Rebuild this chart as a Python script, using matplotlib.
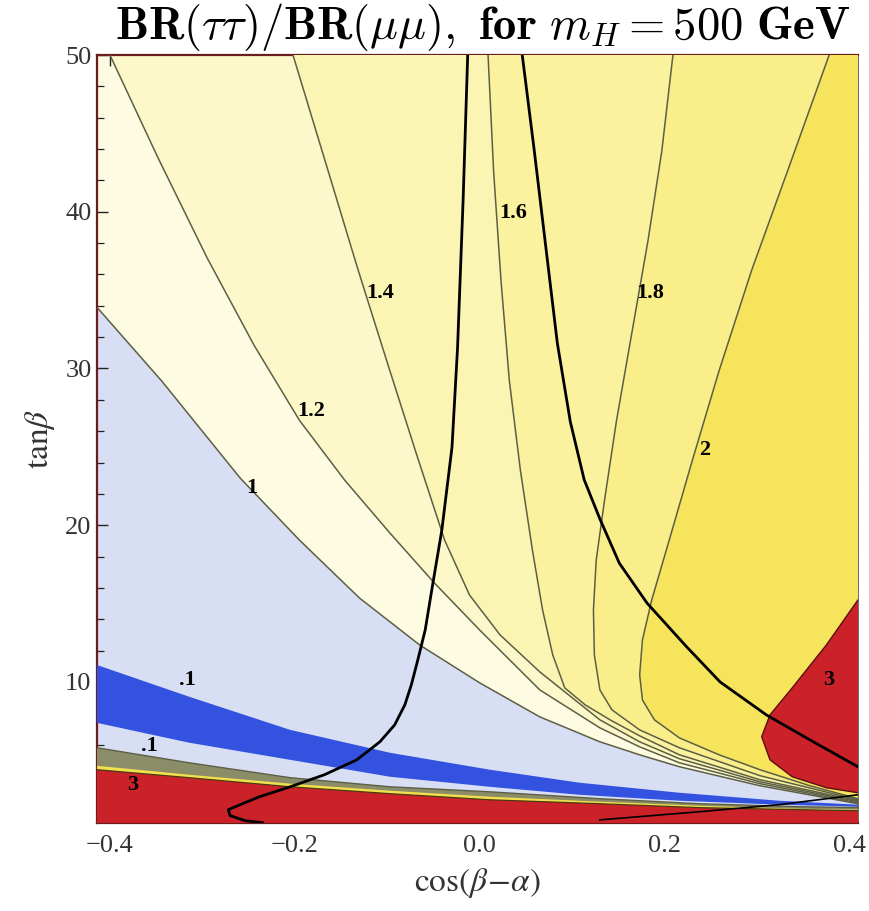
import matplotlib
matplotlib.use('Agg')
import matplotlib.pyplot as plt
import numpy as np

# contour lines: cos(beta-alpha) and tan(beta)
c10_x = [-0.414, -0.344, -0.259, -0.195, -0.13, -0.065, 0.0, 0.065, 0.13, 0.173, 0.216, 0.303, 0.409]
c10_t = [33.9, 29.2, 23.0, 19.05, 15.35, 12.36, 9.94, 7.77, 6.18, 5.35, 4.59, 3.38, 2.23]

c12_x = [-0.4, -0.348, -0.295, -0.244, -0.195, -0.146, -0.097, -0.049, 0.0, 0.065, 0.13, 0.173, 0.216, 0.303, 0.409]
c12_t = [50.0, 43.44, 37.07, 31.47, 26.69, 22.87, 19.49, 16.31, 13.31, 9.49, 7.07, 5.86, 4.84, 3.51, 2.29]

c14_x = [-0.202, -0.164, -0.132, -0.099, -0.068, -0.038, -0.011, 0.022, 0.065, 0.13, 0.173, 0.216, 0.303, 0.409]
c14_t = [50.0, 42.61, 36.37, 30.19, 24.46, 19.05, 15.54, 13.0, 10.64, 7.58, 6.18, 5.1, 3.63, 2.36]

c16_x = [0.009, 0.015, 0.023, 0.032, 0.044, 0.057, 0.068, 0.079, 0.092, 0.114, 0.141, 0.173, 0.216, 0.303, 0.409]
c16_t = [50.0, 42.61, 35.61, 29.24, 23.5, 18.41, 14.59, 11.72, 9.62, 8.54, 7.58, 6.56, 5.35, 3.76, 2.42]

c18_x = [0.209, 0.197, 0.182, 0.165, 0.148, 0.135, 0.126, 0.123, 0.124, 0.13, 0.143, 0.173, 0.216, 0.303, 0.409]
c18_t = [50.0, 43.89, 38.15, 32.42, 26.69, 21.59, 17.77, 14.59, 11.72, 9.49, 8.22, 6.94, 5.8, 4.02, 2.48]

c20_x = [0.378, 0.335, 0.294, 0.259, 0.23, 0.205, 0.186, 0.176, 0.173, 0.176, 0.189, 0.216, 0.259, 0.303, 0.357, 0.409]
c20_t = [50.0, 42.93, 36.24, 29.87, 24.14, 19.05, 15.22, 12.68, 10.45, 8.85, 7.58, 6.43, 5.35, 4.4, 3.38, 2.55]

# value 3 island on the right
c30_x = [0.409, 0.375, 0.338, 0.314, 0.305, 0.314, 0.338, 0.375, 0.409]
c30_t = [15.22, 12.36, 9.62, 7.9, 6.5, 5.03, 3.95, 3.25, 2.93]

# the .1 band (blue) and the steep strip near the bottom
x_low = [-0.414, -0.314, -0.205, -0.097, 0.011, 0.108, 0.216, 0.324, 0.409]
c01_up_t = [11.08, 9.05, 6.94, 5.48, 4.4, 3.57, 2.93, 2.42, 2.17]
c01_lo_t = [7.39, 6.12, 5.03, 3.95, 3.31, 2.8, 2.42, 2.17, 2.04]

x_strip = [-0.414, -0.314, -0.205, -0.097, 0.011, 0.13, 0.238, 0.346, 0.409]
c1_low_t = [5.8, 4.84, 3.89, 3.31, 2.99, 2.55, 2.23, 2.04, 1.98]
c2_low_t = [4.65, 4.08, 3.51, 3.06, 2.68, 2.36, 2.1, 1.91, 1.85]
c3_low_t = [4.4, 3.89, 3.31, 2.87, 2.48, 2.23, 1.98, 1.85, 1.78]

# black constraint curves
curveA_x = [-0.235, -0.254, -0.27, -0.272, -0.259, -0.238, -0.205, -0.168, -0.133, -0.108,
            -0.092, -0.081, -0.074, -0.067, -0.059, -0.051, -0.041, -0.03, -0.024, -0.018, -0.013]
curveA_t = [1.02, 1.15, 1.47, 1.85, 2.17, 2.68, 3.31, 4.08, 5.03, 6.18,
            7.26, 8.54, 9.81, 11.4, 13.31, 16.18, 19.68, 24.97, 31.3, 40.7, 50.0]
curveB_x = [0.046, 0.059, 0.072, 0.084, 0.098, 0.113, 0.13, 0.151, 0.181, 0.224, 0.26,
            0.31, 0.357, 0.409]
curveB_t = [50.0, 43.9, 37.5, 31.6, 26.6, 22.9, 20.4, 17.58, 15.03, 12.23, 10.0,
            7.9, 6.31, 4.59]
curveC_x = [0.13, 0.238, 0.324, 0.409]
curveC_t = [1.2, 1.72, 2.17, 2.8]

# contour labels (text, x, y)
labels = [('1', -0.246, 22.4), ('1.2', -0.182, 27.3), ('1.4', -0.108, 34.8),
          ('1.6', 0.036, 39.9), ('1.8', 0.184, 34.8), ('2', 0.243, 24.8),
          ('3', 0.378, 10.1), ('3', -0.375, 3.4), ('.1', -0.316, 10.1), ('.1', -0.357, 5.9)]

XL, XR, YB, YT = -0.414, 0.409, 1.0, 50.0

col_low = '#d8dff5'
band_cols = ['#fdfbe2', '#fcf8ca', '#fbf5b3', '#faf29e', '#f9ee89', '#f5e45c']
col_red = '#cb2229'
col_blue = '#3352e0'
line_col = '#5d5f45'

fig = plt.figure(figsize=(8.7, 9.11), dpi=100)
ax = fig.add_axes([0.1115, 0.0966, 0.8745, 0.843])
ax.set_xlim(XL, XR)
ax.set_ylim(YB, YT)
ax.set_facecolor(col_low)

pad = 0.05
upper = [(c10_x, c10_t), (c12_x, c12_t), (c14_x, c14_t),
         (c16_x, c16_t), (c18_x, c18_t), (c20_x, c20_t)]
for i, (cx, ct) in enumerate(upper):
    px = list(cx) + [XR + pad, XR + pad, cx[0]]
    py = list(ct) + [ct[-1], YT + 5, YT + 5]
    if cx[0] <= XL:
        px = [XL - pad] + px
        py = [ct[0]] + py
        px[-1] = XL - pad
    ax.fill(px, py, color=band_cols[i], lw=0, zorder=1 + i)
    ax.plot(cx, ct, color=line_col, lw=1.1, zorder=10)

# red island
ax.fill(c30_x + [XR + pad, XR + pad], c30_t + [c30_t[-1], c30_t[0]],
        color=col_red, lw=0, zorder=8)
ax.plot(c30_x, c30_t, color='#5a1010', lw=1.0, zorder=10)

# blue band
ax.fill(x_low + x_low[::-1], c01_up_t + c01_lo_t[::-1], color=col_blue, lw=0, zorder=8)

# bottom strip: steep contours, yellow line, red region
ax.fill(x_strip + [XR + pad, XL - pad], c1_low_t + [0, 0], color='#8b8c68', lw=0, zorder=8)
ax.fill(x_strip + [XR + pad, XL - pad], c2_low_t + [0, 0], color='#f1e04e', lw=0, zorder=8)
ax.fill(x_strip + [XR + pad, XL - pad], c3_low_t + [0, 0], color=col_red, lw=0, zorder=8)
ax.plot(x_strip, c1_low_t, color=line_col, lw=1.0, zorder=10)
ax.plot(x_strip, c3_low_t, color='#4a3a10', lw=0.9, zorder=10)

# black curves
ax.plot(curveA_x, curveA_t, color='black', lw=2.0, zorder=12)
ax.plot(curveB_x, curveB_t, color='black', lw=2.0, zorder=12)
ax.plot(curveC_x, curveC_t, color='black', lw=1.2, zorder=12)

for txt, lx, ly in labels:
    ax.text(lx, ly, txt, fontsize=16, fontweight='bold', family='Liberation Serif',
            ha='center', va='center', zorder=14)

ax.set_xticks([-0.4, -0.2, 0.0, 0.2, 0.4])
ax.set_xticks(np.arange(-0.4, 0.41, 0.05), minor=True)
ax.set_yticks([10, 20, 30, 40, 50])
ax.set_yticks(np.arange(2, 50, 2), minor=True)
ax.set_xticklabels(['\u22120.4', '\u22120.2', '0.0', '0.2', '0.4'])
ax.tick_params(which='both', direction='in', top=True, right=True,
               labelsize=19, color='#222222')
ax.tick_params(which='major', length=8, width=1.0)
ax.tick_params(which='minor', length=5, width=0.9)
ax.tick_params(axis='x', which='major', pad=9)
ax.tick_params(axis='y', which='major', pad=4)
for lab in ax.get_xticklabels() + ax.get_yticklabels():
    lab.set_family('Liberation Serif')
    lab.set_color('#333333')

for side in ['left', 'top', 'bottom']:
    ax.spines[side].set_color('#6b1c1c')
    ax.spines[side].set_linewidth(1.6)
ax.spines['right'].set_color('#555555')
ax.spines['right'].set_linewidth(1.2)

ax.set_xlabel(r'$\mathrm{cos}(\beta\!-\!\alpha)$', fontsize=24, math_fontfamily='stix',
              color='#333333', labelpad=6)
ax.set_ylabel(r'$\mathrm{tan}\beta$', fontsize=24, math_fontfamily='stix',
              color='#333333', labelpad=6)
fig.text(0.555, 0.970, r'$\mathbf{BR}(\tau\tau)/\mathbf{BR}(\mu\mu),\ \mathbf{for}\ m_H = \mathbf{500\ GeV}$',
         fontsize=33.5, math_fontfamily='cm', ha='center', va='center')

fig.savefig('out.png', dpi=100)
